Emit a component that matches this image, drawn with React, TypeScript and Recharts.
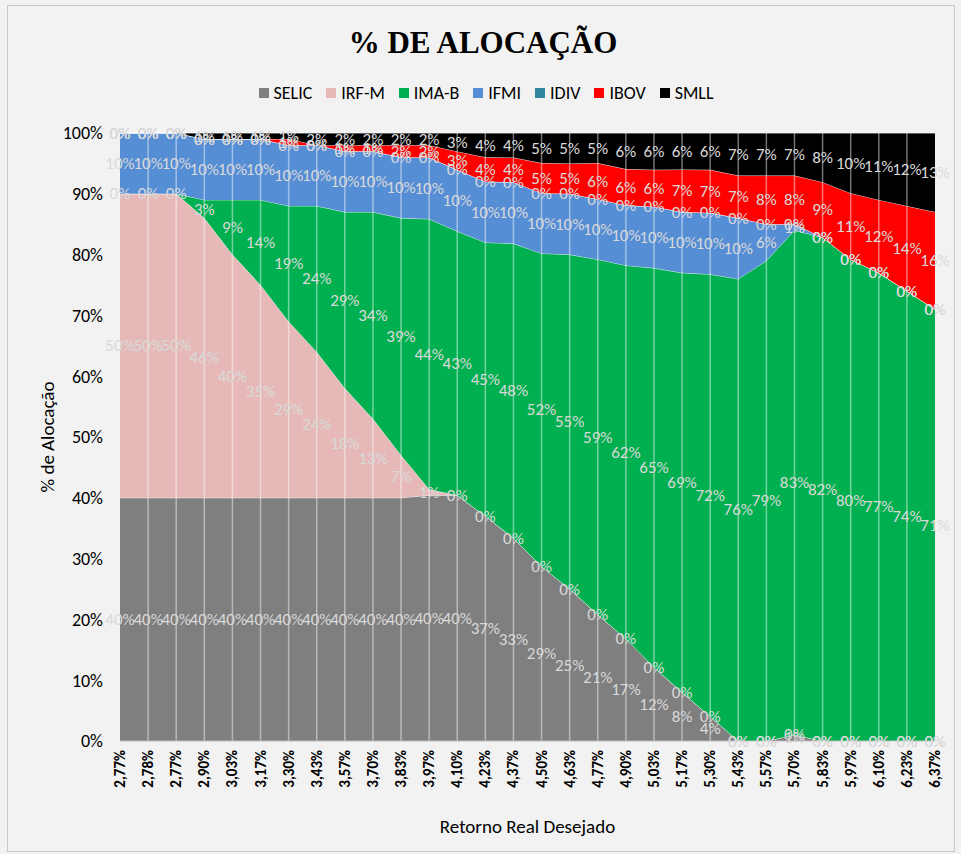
import React from "react";
import { AreaChart, Area, XAxis, YAxis, ReferenceLine, LabelList } from "recharts";

const categories = [
  "2,77%", "2,78%", "2,77%", "2,90%", "3,03%", "3,17%", "3,30%", "3,43%", "3,57%", "3,70%",
  "3,83%", "3,97%", "4,10%", "4,23%", "4,37%", "4,50%", "4,63%", "4,77%", "4,90%", "5,03%",
  "5,17%", "5,30%", "5,43%", "5,57%", "5,70%", "5,83%", "5,97%", "6,10%", "6,23%", "6,37%",
];

const selic = [40, 40, 40, 40, 40, 40, 40, 40, 40, 40, 40, 40, 40, 37, 33, 29, 25, 21, 17, 12, 8, 4, 0, 0, 1, 0, 0, 0, 0, 0];
const irfm = [50, 50, 50, 46, 40, 35, 29, 24, 18, 13, 7, 1, 0, 0, 0, 0, 0, 0, 0, 0, 0, 0, 0, 0, 0, 0, 0, 0, 0, 0];
const imab = [0, 0, 0, 3, 9, 14, 19, 24, 29, 34, 39, 44, 43, 45, 48, 52, 55, 59, 62, 65, 69, 72, 76, 79, 83, 82, 80, 77, 74, 71];
const ifmi = [10, 10, 10, 10, 10, 10, 10, 10, 10, 10, 10, 10, 10, 10, 10, 10, 10, 10, 10, 10, 10, 10, 10, 6, 1, 0, 0, 0, 0, 0];
const idiv = [0, 0, 0, 0, 0, 0, 0, 0, 0, 0, 0, 0, 0, 0, 0, 0, 0, 0, 0, 0, 0, 0, 0, 0, 0, 0, 0, 0, 0, 0];
const ibov = [0, 0, 0, 0, 0, 0, 1, 0, 1, 1, 2, 2, 3, 4, 4, 5, 5, 6, 6, 6, 7, 7, 7, 8, 8, 9, 11, 12, 14, 16];
const smll = [0, 0, 0, 1, 1, 1, 1, 2, 2, 2, 2, 2, 3, 4, 4, 5, 5, 5, 6, 6, 6, 6, 7, 7, 7, 8, 10, 11, 12, 13];

const series = [
  { key: "SELIC", values: selic, color: "#7f7f7f" },
  { key: "IRF-M", values: irfm, color: "#e6b9b8" },
  { key: "IMA-B", values: imab, color: "#00b050" },
  { key: "IFMI", values: ifmi, color: "#558ed5" },
  { key: "IDIV", values: idiv, color: "#31859c" },
  { key: "IBOV", values: ibov, color: "#ff0000" },
  { key: "SMLL", values: smll, color: "#000000" },
];

const data = categories.map((cat, i) => {
  const row: Record<string, any> = { i, cat };
  series.forEach((s) => (row[s.key] = s.values[i]));
  return row;
});
const totals = categories.map((_, i) => series.reduce((acc, s) => acc + s.values[i], 0));

const PLOT_TOP = 133;
const PLOT_BOTTOM = 741;
const PLOT_H = PLOT_BOTTOM - PLOT_TOP;
const FONT = "Carlito, Calibri, Lato, sans-serif";

const makeLabel = (key: string) => (props: any) => {
  const vb = props.viewBox || {};
  const x = props.x ?? vb.x;
  const y = props.y ?? vb.y;
  const index = props.index;
  if (x == null || y == null || index == null) return null;
  const v = data[index][key];
  const cy = y + ((v / totals[index]) * PLOT_H) / 2;
  return (
    <text x={x} y={cy} textAnchor="middle" dominantBaseline="central" fill="#d9d9d9" fontSize={17} fontFamily={FONT}>
      {`${v}%`}
    </text>
  );
};

const XTick = (props: any) => {
  const { x, y, payload } = props;
  return (
    <text
      x={x}
      y={y}
      transform={`rotate(-90, ${x}, ${y})`}
      textAnchor="end"
      dominantBaseline="central"
      fontSize={15}
      fontWeight="bold"
      fontFamily={FONT}
      fill="#000"
    >
      {categories[payload.value]}
    </text>
  );
};

const yTicks = [0, 0.1, 0.2, 0.3, 0.4, 0.5, 0.6, 0.7, 0.8, 0.9, 1];

export default function App() {
  return (
    <div style={{ position: "absolute", left: 0, top: 0, width: 961, height: 854, background: "#f2f2f2", fontFamily: FONT }}>
      <div
        style={{
          position: "absolute",
          left: 7,
          top: 5,
          width: 946,
          height: 845,
          border: "1px solid #c8c8c8",
        }}
      />
      <div
        style={{
          position: "absolute",
          top: 25,
          left: 0,
          width: 966,
          textAlign: "center",
          fontFamily: "'Liberation Serif', serif",
          fontWeight: "bold",
          fontSize: 31,
          color: "#000",
        }}
      >
        % DE ALOCAÇÃO
      </div>
      <div
        style={{
          position: "absolute",
          top: 82,
          left: 0,
          width: 972,
          display: "flex",
          justifyContent: "center",
          gap: 14,
          fontSize: 18,
          color: "#000",
        }}
      >
        {series.map((s) => (
          <div key={s.key} style={{ display: "flex", alignItems: "center", gap: 5 }}>
            <span style={{ width: 10, height: 10, background: s.color, display: "inline-block" }} />
            <span>{s.key}</span>
          </div>
        ))}
      </div>
      <div style={{ position: "absolute", left: 0, top: 0 }}>
        <AreaChart
          width={961}
          height={854}
          data={data}
          stackOffset="expand"
          margin={{ top: PLOT_TOP, right: 26, left: 30, bottom: 13 }}
        >
          <XAxis
            type="number"
            dataKey="i"
            domain={[0, 29]}
            ticks={categories.map((_, i) => i)}
            interval={0}
            height={100}
            tick={<XTick />}
            tickLine={false}
            tickSize={0}
            tickMargin={9}
            axisLine={{ stroke: "#bfbfbf" }}
            label={{ value: "Retorno Real Desejado", position: "insideBottom", offset: 8, fontSize: 19, fill: "#000", fontFamily: FONT }}
          />
          <YAxis
            type="number"
            domain={[0, 1]}
            ticks={yTicks}
            tickFormatter={(v: number) => `${Math.round(v * 100)}%`}
            width={90}
            tickLine={false}
            tickSize={0}
            tickMargin={17}
            axisLine={false}
            tick={{ fontSize: 18, fill: "#000", fontFamily: FONT }}
            label={{ value: "% de Alocação", angle: -90, position: "insideLeft", offset: 17, fontSize: 19, fill: "#000", fontFamily: FONT, style: { textAnchor: "middle" } }}
          />
          {series.map((s) => (
            <Area
              key={s.key}
              type="linear"
              dataKey={s.key}
              stackId="1"
              fill={s.color}
              fillOpacity={1}
              stroke="#ffffff"
              strokeOpacity={0.75}
              strokeWidth={1}
              isAnimationActive={false}
            >
              <LabelList dataKey={s.key} content={makeLabel(s.key)} />
            </Area>
          ))}
          {categories.slice(1, -1).map((_, k) => (
            <ReferenceLine key={k} x={k + 1} stroke="#ffffff" strokeOpacity={0.45} strokeWidth={1.5} />
          ))}
        </AreaChart>
      </div>
    </div>
  );
}
